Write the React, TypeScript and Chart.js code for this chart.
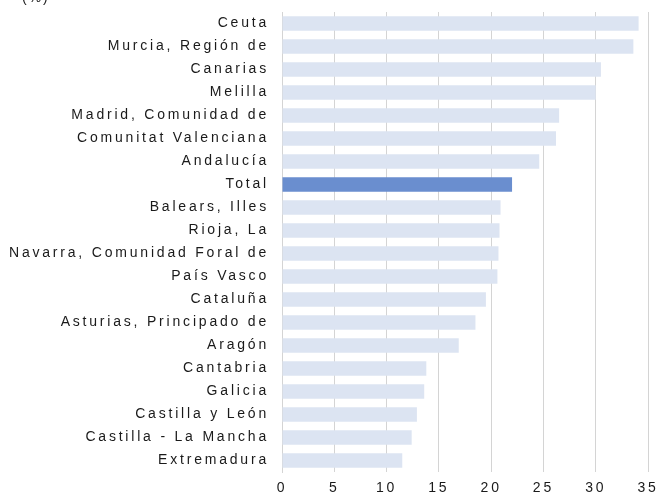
import React, { useEffect, useRef } from "react";
import { Chart, registerables } from "chart.js";

Chart.register(...registerables);

const categories = [
  "Ceuta",
  "Murcia, Región de",
  "Canarias",
  "Melilla",
  "Madrid, Comunidad de",
  "Comunitat Valenciana",
  "Andalucía",
  "Total",
  "Balears, Illes",
  "Rioja, La",
  "Navarra, Comunidad Foral de",
  "País Vasco",
  "Cataluña",
  "Asturias, Principado de",
  "Aragón",
  "Cantabria",
  "Galicia",
  "Castilla y León",
  "Castilla - La Mancha",
  "Extremadura",
];

const values = [
  34.1, 33.6, 30.5, 30.0, 26.5, 26.2, 24.6, 22.0, 20.9, 20.8, 20.7, 20.6,
  19.5, 18.5, 16.9, 13.8, 13.6, 12.9, 12.4, 11.5,
];

const highlightCategory = "Total";
const unitLabel = "(%)";
const xTicks = [0, 5, 10, 15, 20, 25, 30, 35];

const FONT = '"Liberation Sans", Arial, sans-serif';
const SPACING = "2.8px";

export default function App() {
  const ref = useRef<HTMLCanvasElement | null>(null);

  useEffect(() => {
    const canvas = ref.current;
    if (!canvas) return;

    const spacingPlugin = {
      id: "spacing",
      beforeLayout(chart: any) {
        chart.ctx.letterSpacing = SPACING;
      },
      beforeDraw(chart: any) {
        chart.ctx.letterSpacing = SPACING;
      },
      afterDraw(chart: any) {
        const ctx = chart.ctx;
        ctx.save();
        ctx.letterSpacing = "2px";
        ctx.font = `14px ${FONT}`;
        ctx.fillStyle = "#1a1a1a";
        ctx.textAlign = "left";
        ctx.textBaseline = "alphabetic";
        ctx.fillText(unitLabel, 22, 2);
        ctx.restore();
      },
    };

    const chart = new Chart(canvas, {
      type: "bar",
      data: {
        labels: categories,
        datasets: [
          {
            data: values,
            backgroundColor: categories.map((c) =>
              c === highlightCategory ? "#6a8ecf" : "#dce4f2"
            ),
            borderWidth: 0,
            barPercentage: 0.62,
            categoryPercentage: 1,
          },
        ],
      },
      options: {
        indexAxis: "y",
        responsive: false,
        animation: false,
        devicePixelRatio: 1,
        layout: { padding: { top: 12, right: 13, left: 0, bottom: 0 } },
        plugins: {
          legend: { display: false },
          tooltip: { enabled: false },
          title: { display: false },
        },
        scales: {
          x: {
            min: 0,
            max: 35,
            afterBuildTicks(scale: any) {
              scale.ticks = xTicks.map((v) => ({ value: v }));
            },
            afterFit(scale: any) {
              scale.height = 22;
              scale.paddingLeft = 0;
              scale.paddingRight = 0;
            },
            grid: {
              color: "#d4d4d4",
              lineWidth: 1,
              drawTicks: false,
            },
            border: { display: false },
            ticks: {
              padding: 8,
              color: "#1a1a1a",
              font: { family: FONT, size: 14 },
            },
          },
          y: {
            afterFit(scale: any) {
              scale.width = 282;
              scale.paddingTop = 0;
              scale.paddingBottom = 0;
            },
            grid: { display: false, drawTicks: false },
            border: { display: true, color: "#d4d4d4", width: 1 },
            ticks: {
              padding: 13,
              color: "#1a1a1a",
              font: { family: FONT, size: 14 },
              autoSkip: false,
            },
          },
        },
      },
      plugins: [spacingPlugin],
    });

    return () => chart.destroy();
  }, []);

  return (
    <div
      style={{
        position: "fixed",
        left: 0,
        top: 0,
        width: 661,
        height: 494,
        background: "#ffffff",
      }}
    >
      <canvas ref={ref} width={661} height={494} style={{ display: "block" }} />
    </div>
  );
}
